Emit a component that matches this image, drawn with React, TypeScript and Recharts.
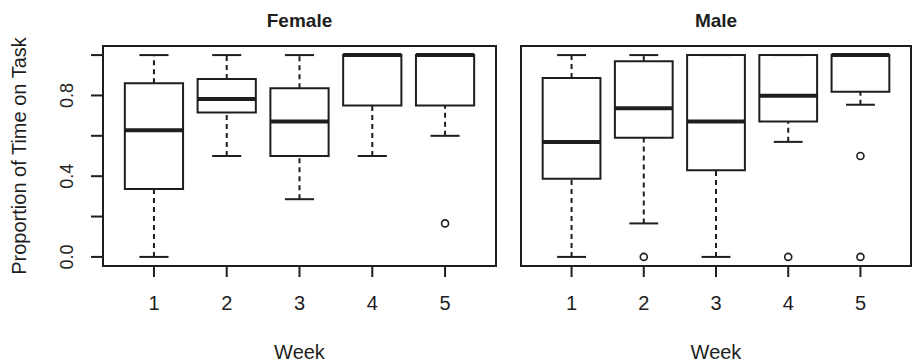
import React from "react";
import { ComposedChart, XAxis, YAxis, Scatter, ReferenceArea, ReferenceLine } from "recharts";

// Boxplot stats (proportion of time on task)
const weeks = [1, 2, 3, 4, 5];
const yTicks = [0, 0.2, 0.4, 0.6, 0.8, 1];
const yTickLabels = ["0.0", "", "0.4", "", "0.8", ""];

const femaleMin = [0.0, 0.5, 0.286, 0.5, 0.6];
const femaleQ1 = [0.336, 0.716, 0.5, 0.75, 0.75];
const femaleMedian = [0.628, 0.782, 0.671, 1.0, 1.0];
const femaleQ3 = [0.861, 0.881, 0.836, 1.0, 1.0];
const femaleMax = [1.0, 1.0, 1.0, 1.0, 1.0];
const femaleOutliers = [{ week: 5, value: 0.166 }];

const maleMin = [0.0, 0.166, 0.0, 0.57, 0.754];
const maleQ1 = [0.387, 0.59, 0.43, 0.671, 0.818];
const maleMedian = [0.569, 0.736, 0.671, 0.798, 1.0];
const maleQ3 = [0.886, 0.97, 1.0, 1.0, 1.0];
const maleMax = [1.0, 1.0, 1.0, 1.0, 1.0];
const maleOutliers = [
  { week: 2, value: 0 },
  { week: 4, value: 0 },
  { week: 5, value: 0.5 },
  { week: 5, value: 0 },
];

const INK = "#1e1e1e";
const BOX_HALF = 0.4;
const CAP_HALF = 0.2;
const X_DOMAIN: [number, number] = [0.3, 5.7];
const Y_DOMAIN: [number, number] = [-0.045, 1.045];

function YTick(props: any) {
  const { x, y, payload } = props;
  const label = yTickLabels[yTicks.indexOf(payload.value)] || "";
  if (!label) return <g />;
  return (
    <text x={x} y={y} transform={`rotate(-90, ${x}, ${y})`} textAnchor="middle" fontSize={18} fill={INK}>
      {label}
    </text>
  );
}

function YLabel(props: any) {
  const { viewBox } = props;
  const x = viewBox.x + 26;
  const y = viewBox.y + viewBox.height / 2;
  return (
    <text x={x} y={y} transform={`rotate(-90, ${x}, ${y})`} textAnchor="middle" fontSize={20} fill={INK}>
      Proportion of Time on Task
    </text>
  );
}

function boxMarks(mins: number[], q1s: number[], meds: number[], q3s: number[], maxs: number[]) {
  const out: React.ReactNode[] = [];
  weeks.forEach((w, i) => {
    out.push(
      <ReferenceArea key={`box${i}`} x1={w - BOX_HALF} x2={w + BOX_HALF} y1={q1s[i]} y2={q3s[i]}
        fill="#fff" fillOpacity={1} stroke={INK} strokeWidth={2} ifOverflow="visible" />
    );
    if (maxs[i] > q3s[i]) {
      out.push(
        <ReferenceLine key={`wu${i}`} segment={[{ x: w, y: q3s[i] }, { x: w, y: maxs[i] }]}
          stroke={INK} strokeWidth={2} strokeDasharray="5 4" ifOverflow="visible" />
      );
    }
    if (q1s[i] > mins[i]) {
      out.push(
        <ReferenceLine key={`wl${i}`} segment={[{ x: w, y: mins[i] }, { x: w, y: q1s[i] }]}
          stroke={INK} strokeWidth={2} strokeDasharray="5 4" ifOverflow="visible" />
      );
    }
    out.push(
      <ReferenceLine key={`cu${i}`} segment={[{ x: w - CAP_HALF, y: maxs[i] }, { x: w + CAP_HALF, y: maxs[i] }]}
        stroke={INK} strokeWidth={2} ifOverflow="visible" />,
      <ReferenceLine key={`cl${i}`} segment={[{ x: w - CAP_HALF, y: mins[i] }, { x: w + CAP_HALF, y: mins[i] }]}
        stroke={INK} strokeWidth={2} ifOverflow="visible" />,
      <ReferenceLine key={`md${i}`} segment={[{ x: w - BOX_HALF, y: meds[i] }, { x: w + BOX_HALF, y: meds[i] }]}
        stroke={INK} strokeWidth={4} ifOverflow="visible" />
    );
  });
  return out;
}

const Outlier = (props: any) => (
  <circle cx={props.cx} cy={props.cy} r={3.5} fill="#fff" stroke={INK} strokeWidth={1.6} />
);

interface PanelProps {
  width: number;
  marginLeft: number;
  showY: boolean;
  mins: number[];
  q1s: number[];
  meds: number[];
  q3s: number[];
  maxs: number[];
  outliers: Array<{ week: number; value: number }>;
}

function Panel(props: PanelProps) {
  const { width, marginLeft, showY, mins, q1s, meds, q3s, maxs, outliers } = props;
  return (
    <ComposedChart width={width} height={364} margin={{ top: 46, right: showY ? 4 : 1, bottom: 0, left: marginLeft }}>
      <XAxis
        type="number"
        dataKey="week"
        domain={X_DOMAIN}
        allowDataOverflow
        ticks={weeks}
        interval={0}
        height={98}
        axisLine={false}
        tickSize={11}
        tickMargin={19}
        tickLine={{ stroke: INK, strokeWidth: 2 }}
        tick={{ fill: INK, fontSize: 20 }}
        label={{ value: "Week", position: "insideBottom", offset: 5, fill: INK, fontSize: 20 }}
      />
      <YAxis
        type="number"
        domain={Y_DOMAIN}
        allowDataOverflow
        ticks={yTicks}
        interval={0}
        hide={!showY}
        width={showY ? 103 : 0}
        axisLine={false}
        tickSize={12}
        tickMargin={18}
        tickLine={{ stroke: INK, strokeWidth: 2 }}
        tick={<YTick />}
        label={showY ? <YLabel /> : undefined}
      />
      <ReferenceArea x1={X_DOMAIN[0]} x2={X_DOMAIN[1]} y1={Y_DOMAIN[0]} y2={Y_DOMAIN[1]}
        fill="none" stroke={INK} strokeWidth={2} ifOverflow="visible" />
      {boxMarks(mins, q1s, meds, q3s, maxs)}
      <Scatter data={outliers} dataKey="value" shape={<Outlier />} isAnimationActive={false} />
    </ComposedChart>
  );
}

const titleStyle: React.CSSProperties = {
  position: "absolute",
  top: 11,
  textAlign: "center",
  fontSize: 19,
  lineHeight: "19px",
  fontWeight: "bold",
  color: INK,
};

export default function App() {
  return (
    <div
      style={{
        position: "relative",
        width: 912,
        height: 364,
        background: "#fff",
        fontFamily: '"Liberation Sans", Arial, sans-serif',
        overflow: "hidden",
      }}
    >
      <style>{"body{margin:0}"}</style>
      <div style={{ ...titleStyle, left: 103, width: 393 }}>Female</div>
      <div style={{ ...titleStyle, left: 521, width: 390 }}>Male</div>
      <div style={{ position: "absolute", left: 0, top: 0 }}>
        <Panel width={500} marginLeft={0} showY mins={femaleMin} q1s={femaleQ1} meds={femaleMedian}
          q3s={femaleQ3} maxs={femaleMax} outliers={femaleOutliers} />
      </div>
      <div style={{ position: "absolute", left: 500, top: 0 }}>
        <Panel width={412} marginLeft={21} showY={false} mins={maleMin} q1s={maleQ1} meds={maleMedian}
          q3s={maleQ3} maxs={maleMax} outliers={maleOutliers} />
      </div>
    </div>
  );
}
